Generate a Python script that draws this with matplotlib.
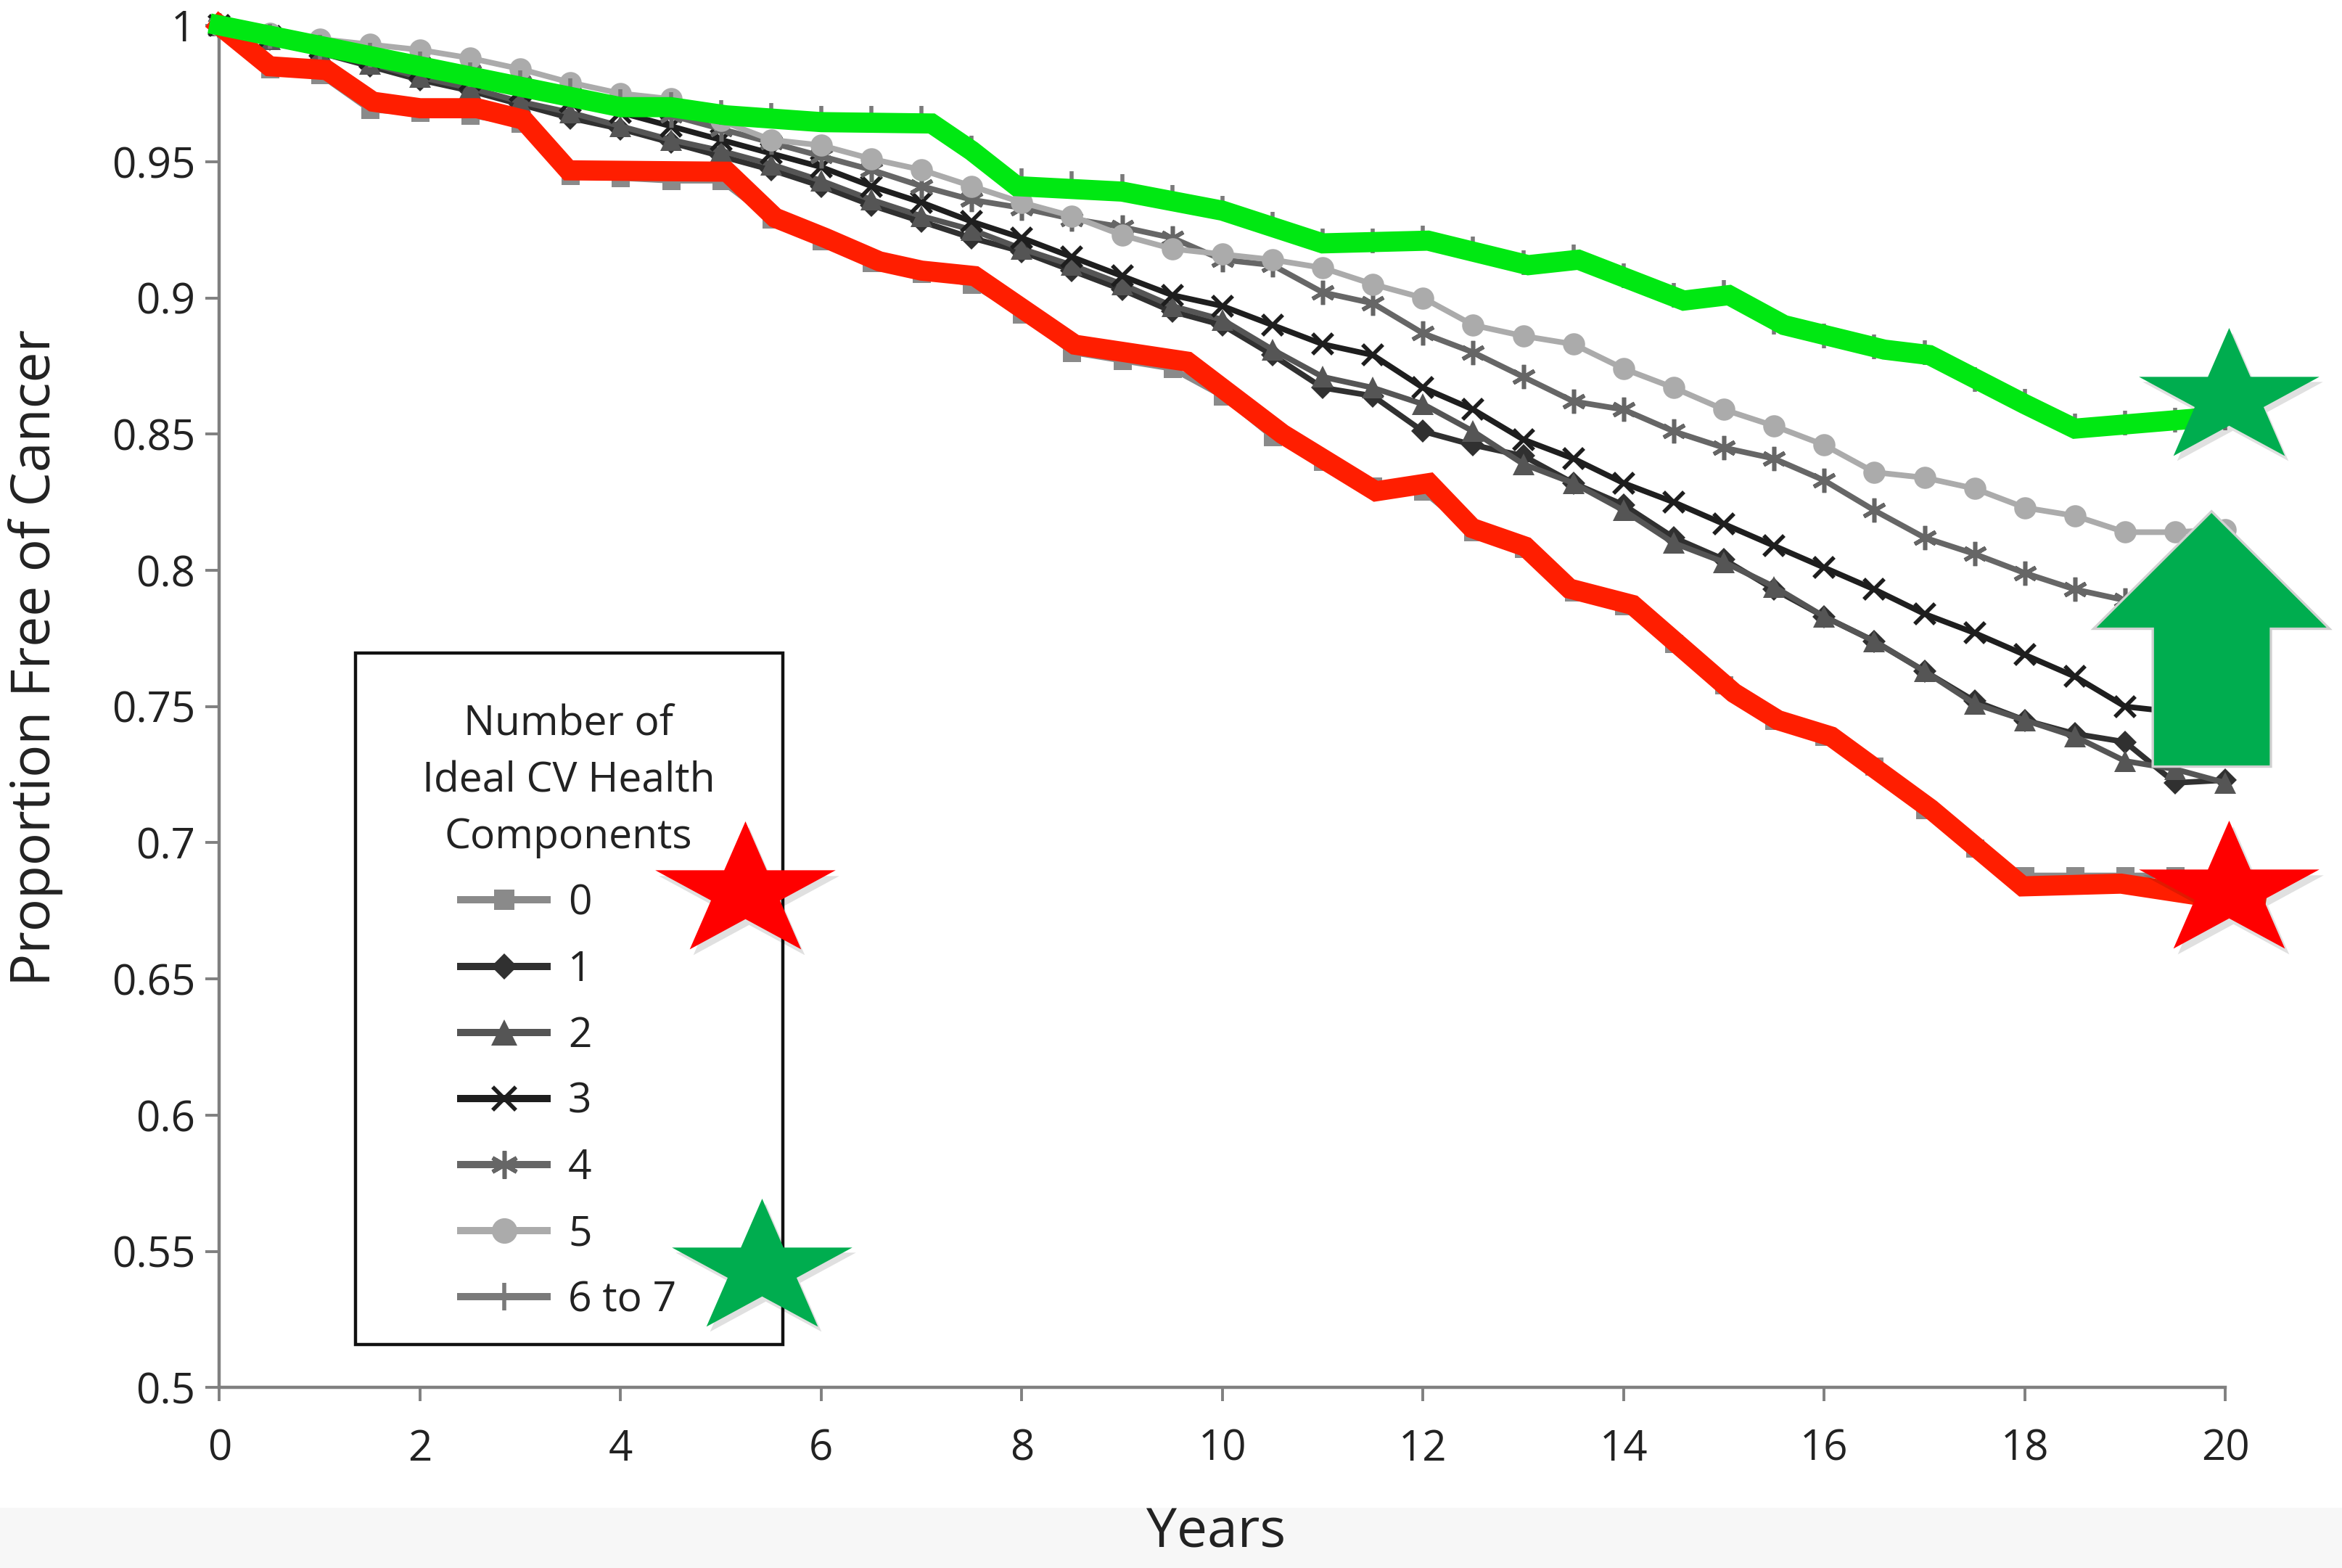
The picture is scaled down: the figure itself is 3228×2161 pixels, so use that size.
import numpy as np
import matplotlib
matplotlib.use("Agg")
import matplotlib.pyplot as plt
from matplotlib.path import Path
from matplotlib.patches import Rectangle, Polygon
from matplotlib.lines import Line2D

plt.rcParams['font.family'] = ['Open Sans', 'DejaVu Sans']

# ---------------- data ----------------
years = np.arange(0, 20.5, 0.5)
series_labels = ["0", "1", "2", "3", "4", "5", "6 to 7"]

s0 = [1.000, 0.984, 0.982, 0.969, 0.968, 0.967, 0.964, 0.945, 0.944, 0.943, 0.943,
      0.929, 0.921, 0.913, 0.909, 0.905, 0.894, 0.880, 0.877, 0.874, 0.864,
      0.849, 0.840, 0.831, 0.829, 0.814, 0.808, 0.792, 0.787, 0.773, 0.758,
      0.745, 0.739, 0.728, 0.712, 0.698, 0.688, 0.688, 0.688, 0.688, 0.688]
s1 = [1.000, 0.995, 0.990, 0.985, 0.980, 0.976, 0.971, 0.966, 0.962, 0.957, 0.952,
      0.947, 0.941, 0.934, 0.928, 0.922, 0.917, 0.910, 0.903, 0.895, 0.890,
      0.879, 0.867, 0.864, 0.851, 0.846, 0.842, 0.832, 0.824, 0.812, 0.804,
      0.793, 0.783, 0.774, 0.763, 0.752, 0.745, 0.740, 0.737, 0.722, 0.723]
s2 = [1.000, 0.995, 0.991, 0.986, 0.981, 0.977, 0.972, 0.968, 0.963, 0.958, 0.954,
      0.949, 0.943, 0.936, 0.930, 0.925, 0.918, 0.912, 0.905, 0.897, 0.892,
      0.881, 0.871, 0.867, 0.861, 0.851, 0.839, 0.832, 0.822, 0.810, 0.803,
      0.794, 0.783, 0.774, 0.763, 0.751, 0.745, 0.739, 0.730, 0.727, 0.722]
s3 = [1.000, 0.996, 0.992, 0.988, 0.984, 0.980, 0.976, 0.972, 0.968, 0.963, 0.958,
      0.953, 0.948, 0.941, 0.935, 0.928, 0.922, 0.915, 0.908, 0.901, 0.897,
      0.890, 0.883, 0.879, 0.867, 0.859, 0.848, 0.841, 0.832, 0.825, 0.817,
      0.809, 0.801, 0.793, 0.784, 0.777, 0.769, 0.761, 0.750, 0.748, 0.746]
s4 = [1.000, 0.996, 0.993, 0.990, 0.986, 0.983, 0.979, 0.975, 0.971, 0.967, 0.962,
      0.957, 0.952, 0.947, 0.941, 0.936, 0.933, 0.929, 0.926, 0.922, 0.914,
      0.912, 0.902, 0.898, 0.887, 0.880, 0.871, 0.862, 0.859, 0.851, 0.845,
      0.841, 0.833, 0.822, 0.812, 0.806, 0.799, 0.793, 0.789, 0.787, 0.785]
s5 = [1.000, 0.997, 0.995, 0.993, 0.991, 0.988, 0.984, 0.979, 0.975, 0.973, 0.965,
      0.958, 0.956, 0.951, 0.947, 0.941, 0.935, 0.930, 0.923, 0.918, 0.916,
      0.914, 0.911, 0.905, 0.900, 0.890, 0.886, 0.883, 0.874, 0.867, 0.859,
      0.853, 0.846, 0.836, 0.834, 0.830, 0.823, 0.820, 0.814, 0.814, 0.815]
s6 = [1.000, 0.996, 0.992, 0.989, 0.986, 0.982, 0.979, 0.976, 0.972, 0.971, 0.968,
      0.967, 0.966, 0.966, 0.966, 0.955, 0.943, 0.942, 0.941, 0.937, 0.933,
      0.927, 0.921, 0.921, 0.922, 0.918, 0.913, 0.915, 0.908, 0.901, 0.902,
      0.891, 0.886, 0.882, 0.880, 0.870, 0.862, 0.853, 0.854, 0.855, 0.856]
series_values = [s0, s1, s2, s3, s4, s5, s6]

# hand-drawn highlight overlays
green_x = [0.0, 4.0, 4.5, 5.05, 6.0, 7.1, 7.5, 7.95, 9.0, 10.0, 11.0, 12.05, 13.05,
           13.55, 14.6, 15.05, 15.6, 16.6, 17.05, 18.0, 18.5, 19.8]
green_y = [1.000, 0.970, 0.970, 0.967, 0.9645, 0.964, 0.954, 0.941, 0.939, 0.932,
           0.920, 0.921, 0.912, 0.914, 0.899, 0.901, 0.890, 0.881, 0.879, 0.861,
           0.852, 0.856]
red_x = [0.0, 0.5, 1.07, 1.53, 2.0, 2.57, 3.03, 3.48, 5.06, 5.54, 6.04, 6.58, 7.0,
         7.53, 8.53, 9.65, 10.6, 11.53, 12.06, 12.49, 13.02, 13.46, 14.09, 15.1,
         15.54, 16.07, 17.06, 17.98, 18.96, 20.3]
red_y = [1.000, 0.985, 0.9836, 0.972, 0.9696, 0.9696, 0.9654, 0.9468, 0.9463,
         0.9294, 0.922, 0.9134, 0.910, 0.908, 0.8828, 0.8766, 0.850, 0.829, 0.832,
         0.8155, 0.8087, 0.7933, 0.7873, 0.755, 0.745, 0.739, 0.7124, 0.684, 0.685,
         0.6775]

# ---------------- styles ----------------
styles = [
    dict(color="#8a8a8a", marker="s", ms=9, mew=0),
    dict(color="#303030", marker="D", ms=8, mew=0),
    dict(color="#555555", marker="^", ms=11, mew=0),
    dict(color="#1e1e1e", marker="x", ms=10, mew=2.0),
    dict(color="#666666", marker=(6, 2, 0), ms=12, mew=2.0),
    dict(color="#ababab", marker="o", ms=11, mew=0),
    dict(color="#7a7a7a", marker="|", ms=12, mew=2.0),
]

fig = plt.figure(figsize=(16.14, 10.805), dpi=200)
fig.add_artist(Rectangle((0, 0), 1, 0.038, transform=fig.transFigure,
                         color="#f7f7f7", zorder=-5))
ax = fig.add_axes([0.0937, 0.115, 0.8565, 0.8688])

for vals, st, lab in zip(series_values, styles, series_labels):
    ax.plot(years, vals, lw=2.8, label=lab, zorder=2, clip_on=False, **st)

ax.plot(red_x, red_y, color="#ff1e00", lw=10, solid_joinstyle="miter",
        zorder=4, clip_on=False)
ax.plot(green_x, green_y, color="#00e812", lw=10, solid_joinstyle="miter",
        zorder=4, clip_on=False)

ax.set_xlim(0, 20)
ax.set_ylim(0.5, 1.0)
ax.set_xticks(np.arange(0, 21, 2))
yt = np.round(np.arange(0.5, 1.0001, 0.05), 2)
ax.set_yticks(yt)
ax.set_yticklabels([f"{v:g}" for v in yt])

for sp in ["top", "right"]:
    ax.spines[sp].set_visible(False)
for sp in ["left", "bottom"]:
    ax.spines[sp].set_color("#808080")
    ax.spines[sp].set_linewidth(1.6)
ax.tick_params(axis="x", direction="out", length=7, width=1.4, color="#808080",
               labelsize=21, labelcolor="#222222", pad=13)
ax.tick_params(axis="y", direction="out", length=7, width=1.4, color="#808080",
               labelsize=21, labelcolor="#222222", pad=5)

ax.set_ylabel("Proportion Free of Cancer", fontsize=27, color="#222222")
ax.set_xlabel("Years", fontsize=27, color="#222222")
ax.yaxis.set_label_coords(-0.078, 0.536)
ax.xaxis.set_label_coords(0.497, -0.087)

# legend (proxy handles drawn a little heavier, frame drawn as a rectangle)
proxies = [Line2D([], [], lw=3.6, **st) for st in styles]
for p, st in zip(proxies, styles):
    p.set_markersize(st["ms"] * 1.15)
leg = ax.legend(proxies, series_labels,
                title="Number of\nIdeal CV Health\nComponents",
                loc="center", bbox_to_anchor=(0.174, 0.275), frameon=False,
                fontsize=20.5, title_fontsize=20.5, handlelength=2.1,
                handletextpad=0.5, labelspacing=0.6)
leg.get_title().set_multialignment("center")
leg.get_title().set_linespacing(1.48)
leg.get_title().set_color("#222222")
for t in leg.get_texts():
    t.set_color("#222222")
leg.set_zorder(5)
ax.add_patch(Rectangle((0.0678, 0.0318), 0.2129, 0.5077, transform=ax.transAxes,
                       fill=False, ec="#111111", lw=1.6, zorder=5))

# star marker (slightly squashed 5-point star)
ang = np.deg2rad(90 + 36 * np.arange(10))
rad = np.where(np.arange(10) % 2 == 0, 1.0, 0.382)
sv = np.column_stack([rad * np.cos(ang), rad * np.sin(ang) * 0.746])
sv = np.vstack([sv, sv[:1]])
star = Path(sv, [Path.MOVETO] + [Path.LINETO] * 9 + [Path.CLOSEPOLY])

star_pos = [((0.2619, 0.3640), "#ff0000"), ((0.2703, 0.0873), "#00ad4f"),
            ((1.0017, 0.7263), "#00ad4f"), ((1.0019, 0.3645), "#ff0000")]
for (sx, sy), c in star_pos:
    ax.plot([sx + 0.002], [sy - 0.004], marker=star, ms=89.5, color="#000000",
            alpha=0.12, mew=0, transform=ax.transAxes, clip_on=False, zorder=6)
    ax.plot([sx], [sy], marker=star, ms=89.5, color=c, mew=0,
            transform=ax.transAxes, clip_on=False, zorder=7)

# upward arrow
arrow = Polygon([(0.9931, 0.6433), (1.0519, 0.5571), (1.0227, 0.5571),
                 (1.0227, 0.4559), (0.9638, 0.4559), (0.9638, 0.5571),
                 (0.9343, 0.5571)], closed=True, transform=ax.transAxes,
                fc="#00ad4f", ec="#d0d0d0", lw=1.2, clip_on=False, zorder=7)
ax.add_patch(arrow)

fig.savefig("out.png", dpi=200)
